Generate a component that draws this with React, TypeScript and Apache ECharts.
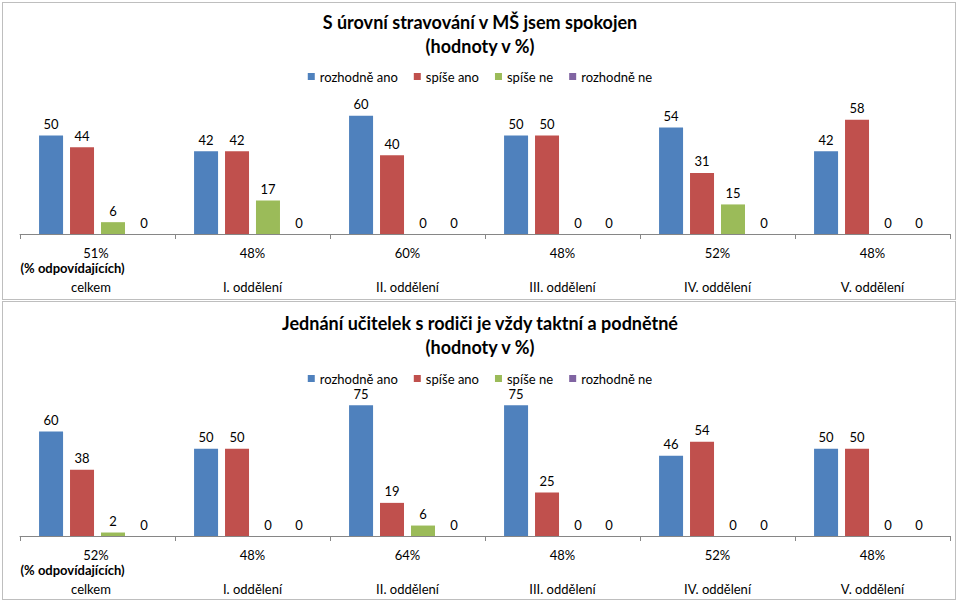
import React, { useEffect, useRef } from "react";
import * as echarts from "echarts";

const categories = ["celkem", "I. oddělení", "II. oddělení", "III. oddělení", "IV. oddělení", "V. oddělení"];
const seriesNames = ["rozhodně ano", "spíše ano", "spíše ne", "rozhodně ne"];
const colors = ["#4F81BD", "#C0504D", "#9BBB59", "#8064A2"];

const title1 = "S úrovní stravování v MŠ jsem spokojen\n(hodnoty v %)";
const rate1 = [51, 48, 60, 48, 52, 48];
const c1Ano = [50, 42, 60, 50, 54, 42];
const c1SpiseAno = [44, 42, 40, 50, 31, 58];
const c1SpiseNe = [6, 17, 0, 0, 15, 0];
const c1Ne = [0, 0, 0, 0, 0, 0];

const title2 = "Jednání učitelek s rodiči je vždy taktní a podnětné\n(hodnoty v %)";
const rate2 = [52, 48, 64, 48, 52, 48];
const c2Ano = [60, 50, 75, 75, 46, 50];
const c2SpiseAno = [38, 50, 19, 25, 54, 50];
const c2SpiseNe = [2, 0, 6, 0, 0, 0];
const c2Ne = [0, 0, 0, 0, 0, 0];

const respondentsNote = "(% odpovídajících)";

const FONT = "Lato";

function makeLabelFormatter(rates: number[]) {
  return (value: string, idx: number) => {
    if (idx === 0) {
      return `{p0|${rates[idx]}%}\n{b|${respondentsNote}}\n{c0|${value}}`;
    }
    return `{p|${rates[idx]}%}\n{e| }\n{c|${value}}`;
  };
}

const W0 = 154;
const richStyles = {
  p: { fontSize: 13, lineHeight: 15, color: "#000", fontFamily: FONT },
  p0: { fontSize: 13, lineHeight: 15, color: "#000", fontFamily: FONT, width: W0 - 3, padding: [0, 3, 0, 0], align: "center" },
  b: { fontSize: 13, lineHeight: 15, color: "#000", fontWeight: "bold", fontFamily: FONT, width: W0, align: "left" },
  e: { fontSize: 13, lineHeight: 15 },
  c: { fontSize: 13, lineHeight: 23, color: "#000", fontFamily: FONT },
  c0: { fontSize: 13, lineHeight: 23, color: "#000", fontFamily: FONT, width: W0 - 13, padding: [0, 13, 0, 0], align: "center" },
};

export default function App() {
  const ref = useRef<HTMLDivElement>(null);

  useEffect(() => {
    if (!ref.current) return;
    const chart = echarts.init(ref.current, null, { renderer: "svg" });

    const data1 = [c1Ano, c1SpiseAno, c1SpiseNe, c1Ne];
    const data2 = [c2Ano, c2SpiseAno, c2SpiseNe, c2Ne];

    const mkSeries = (data: number[][], axisIdx: number) =>
      data.map((d, i) => ({
        name: seriesNames[i],
        type: "bar",
        xAxisIndex: axisIdx,
        yAxisIndex: axisIdx,
        data: d,
        barWidth: 24,
        barGap: "29%",
        itemStyle: { color: colors[i] },
        label: {
          show: true,
          position: "top",
          distance: 5,
          color: "#000",
          fontSize: 13,
          fontFamily: FONT,
        },
      }));

    const xAxisBase = (gridIndex: number, rates: number[]) => ({
      type: "category",
      gridIndex,
      data: categories,
      axisLine: { show: true, lineStyle: { color: "#868686", width: 1 } },
      axisTick: { show: true, length: 5, lineStyle: { color: "#868686" } },
      axisLabel: {
        interval: 0,
        margin: 11,
        formatter: makeLabelFormatter(rates),
        rich: richStyles,
      },
    });

    const legendBase = (top: number) => ({
      top,
      left: "center",
      data: seriesNames,
      itemWidth: 7,
      itemHeight: 7,
      itemGap: 16,
      icon: "rect",
      textStyle: { fontSize: 13, color: "#000", fontFamily: FONT },
      selectedMode: false,
    });

    const titleBase = (text: string, top: number) => ({
      text,
      left: "center",
      top,
      padding: 0,
      textStyle: {
        fontSize: 18,
        fontWeight: "bold",
        lineHeight: 24,
        color: "#000",
        fontFamily: FONT,
      },
    });

    chart.setOption({
      animation: false,
      title: [titleBase(title1, 10), titleBase(title2, 311)],
      legend: [legendBase(65), legendBase(367)],
      grid: [
        { left: 20, right: 10, top: 96, bottom: 367 },
        { left: 20, right: 10, top: 396.5, bottom: 65 },
      ],
      xAxis: [xAxisBase(0, rate1), xAxisBase(1, rate2)],
      yAxis: [
        { type: "value", gridIndex: 0, min: 0, max: 70, show: false, splitLine: { show: false } },
        { type: "value", gridIndex: 1, min: 0, max: 80, show: false, splitLine: { show: false } },
      ],
      series: [...mkSeries(data1, 0), ...mkSeries(data2, 1)],
    });

    return () => chart.dispose();
  }, []);

  return (
    <div style={{ position: "absolute", left: 0, top: 0, width: 960, height: 601, background: "#fff" }}>
      <div style={{ position: "absolute", left: 2, top: 2, width: 952, height: 296, border: "1px solid #BEBEBE" }} />
      <div style={{ position: "absolute", left: 2, top: 301, width: 952, height: 297, border: "1px solid #BEBEBE" }} />
      <div ref={ref} style={{ position: "absolute", left: 0, top: 0, width: 960, height: 601 }} />
    </div>
  );
}
